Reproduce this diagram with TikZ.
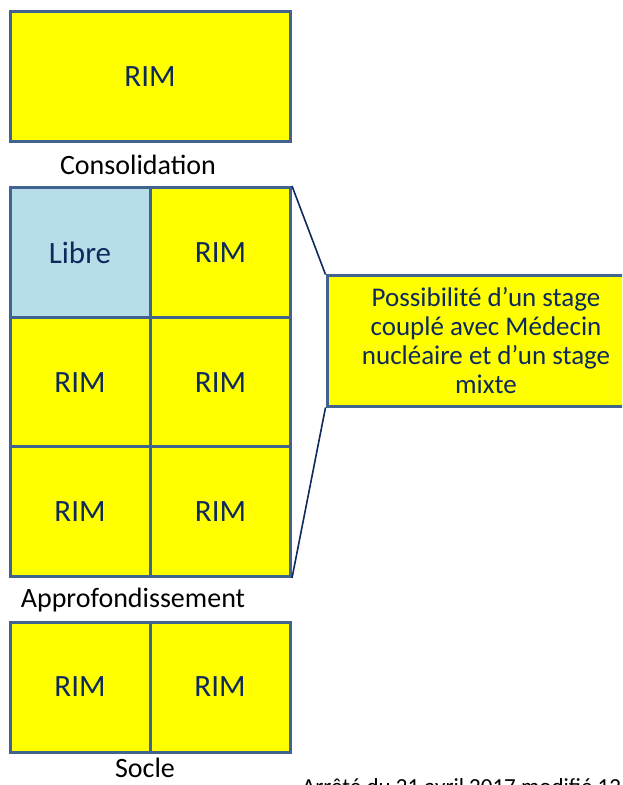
\documentclass[tikz,border=0pt]{standalone}
\usepackage{fontspec}
\setmainfont{Carlito}
\usepackage{tikz}

\definecolor{rimyellow}{HTML}{FFFF00}
\definecolor{librebleu}{HTML}{B7DDE8}
\definecolor{bord}{HTML}{41638F}
\definecolor{encre}{HTML}{0E2A5C}

\tikzset{
  rimbox/.style={draw=bord, line width=1.5pt, fill=rimyellow, text=encre,
    font=\fontsize{15.5}{18}\selectfont, minimum width=70pt, minimum height=65pt, inner sep=0pt},
  librebox/.style={rimbox, fill=librebleu},
  stagebox/.style={rimbox, minimum width=159pt, font=\fontsize{13.5}{14.5}\selectfont, align=center},
  etiquette/.style={font=\fontsize{14}{16}\selectfont, text=black}
}

\begin{document}
\begin{tikzpicture}[x=0.5pt, y=-0.5pt]
  \clip (0,0) rectangle (622,785);

  % consolidation
  \node[rimbox, minimum width=140pt] (conso) at (150,77) {RIM};
  \node[etiquette] (lconso) at (138,165) {Consolidation};

  % approfondissement
  \node[librebox] (c11) at (80,252.5) {Libre};
  \node[rimbox] (c12) at (220.5,252.5) {RIM};
  \foreach \r/\y in {2/382.5, 3/511.5} {
    \node[rimbox] (c\r1) at (80,\y) {RIM};
    \node[rimbox] (c\r2) at (220.5,\y) {RIM};
  }
  \node[etiquette] (lappro) at (133,600) {Approfondissement};

  \node[stagebox] (stage) at (486,341)
    {Possibilité d’un stage\\couplé avec Médecin\\nucléaire et d’un stage\\mixte};
  \draw[encre, line width=0.8pt] (c12.north east) -- (stage.north west);
  \draw[encre, line width=0.8pt] (c32.south east) -- (stage.south west);

  % socle
  \node[rimbox] (s1) at (80,687) {RIM};
  \node[rimbox] (s2) at (220,687) {RIM};
  \node[etiquette] (lsocle) at (145,768) {Socle};

  \node[anchor=base west, font=\fontsize{11.5}{13}\selectfont] (arrete) at (295,794)
    {Arrêté du 21 avril 2017 modifié 12 avril 2018};
\end{tikzpicture}
\end{document}
